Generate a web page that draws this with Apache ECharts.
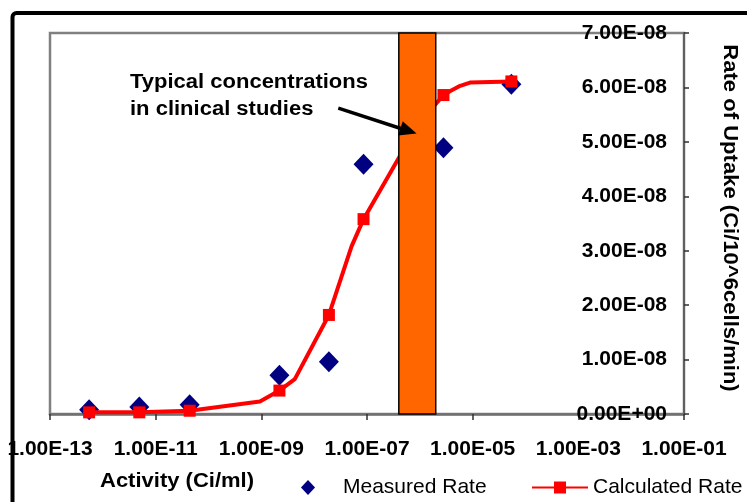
<!DOCTYPE html>
<html>
<head>
<meta charset="utf-8">
<script src="https://cdn.jsdelivr.net/npm/echarts@6/dist/echarts.min.js"></script>
<style>
  html, body { margin: 0; padding: 0; background: #fff; }
  #chart { width: 747px; height: 502px; }
</style>
</head>
<body>
<div id="chart"></div>
<script>
// Activity (Ci/ml) at which uptake was measured
const activity = [5.5e-13, 4.9e-12, 4.4e-11, 2.2e-9, 1.9e-8, 8.6e-8, 2.8e-6, 5.4e-5];
// Measured uptake rate (Ci/10^6 cells/min)
const measuredRate = [8e-10, 1.3e-9, 1.7e-9, 7.1e-9, 9.6e-9, 4.59e-8, 4.89e-8, 6.06e-8];
// Fitted curve: activity and calculated rate (markers at the measured activities)
const curveActivity = [5.5e-13, 4.9e-12, 4.4e-11, 9.4e-10, 2.2e-9, 4.3e-9, 1.9e-8, 5.1e-8, 8.6e-8, 8.9e-7, 2.8e-6, 3.7e-6, 5.8e-6, 8.9e-6, 5.4e-5];
const curveRate = [3e-10, 3e-10, 6e-10, 2.3e-9, 4.3e-9, 6.4e-9, 1.82e-8, 3.08e-8, 3.58e-8, 5.29e-8, 5.86e-8, 5.93e-8, 6.03e-8, 6.09e-8, 6.11e-8];
// Range of activity typical for clinical studies
const clinicalRange = [4e-7, 2e-6];
// Annotation arrow: start and end (activity, rate)
const arrowFrom = [2.86e-8, 5.62e-8];
const arrowTo = [6.1e-7, 5.2e-8];
// Tick labels
const xTickLabels = ['1.00E-13', '1.00E-11', '1.00E-09', '1.00E-07', '1.00E-05', '1.00E-03', '1.00E-01'];
const yTickLabels = ['0.00E+00', '1.00E-08', '2.00E-08', '3.00E-08', '4.00E-08', '5.00E-08', '6.00E-08', '7.00E-08'];

const FONT = "'Liberation Sans', Arial, sans-serif";

const chart = echarts.init(document.getElementById('chart'), null, { renderer: 'canvas' });

const measuredData = activity.map((x, i) => [x, measuredRate[i]]);
const curveData = curveActivity.map((x, i) => ({
  value: [x, curveRate[i]],
  symbol: activity.includes(x) ? 'rect' : 'none'
}));

chart.setOption({
  animation: false,
  backgroundColor: '#fff',
  grid: {
    left: 50, right: 63, top: 33, bottom: 88,
    show: true, borderColor: '#808080', borderWidth: 2.5, backgroundColor: '#fff'
  },
  xAxis: {
    type: 'log', logBase: 10, min: 1e-13, max: 1e-1, interval: 2,
    axisLine: { show: true, lineStyle: { color: '#707070', width: 2.5 } },
    axisTick: { show: true, length: 6, lineStyle: { color: '#303030', width: 1.5 } },
    splitLine: { show: false },
    minorTick: { show: false },
    axisLabel: {
      margin: 25, color: '#000', fontFamily: FONT, fontWeight: 'bold', fontSize: 21,
      showMinLabel: true, showMaxLabel: true,
      formatter: (v, i) => xTickLabels[Math.round((Math.log10(v) + 13) / 2)] ?? xTickLabels[i]
    }
  },
  yAxis: {
    type: 'value', position: 'right', min: 0, max: 7e-8, interval: 1e-8,
    axisLine: { show: true, lineStyle: { color: '#606060', width: 2 } },
    axisTick: { show: true, length: 5, lineStyle: { color: '#303030', width: 1.5 } },
    splitLine: { show: false },
    axisLabel: {
      inside: true, margin: 17, color: '#000', fontFamily: FONT, fontWeight: 'bold', fontSize: 21,
      formatter: (v, i) => yTickLabels[Math.round(v / 1e-8)] ?? yTickLabels[i]
    }
  },
  legend: [
    {
      data: ['Measured Rate'], left: 296, top: 472, orient: 'horizontal',
      itemWidth: 14, itemHeight: 15,
      itemStyle: { opacity: 1 },
      textStyle: { color: '#000', fontFamily: FONT, fontSize: 21, padding: [0, 0, 0, 23] }
    },
    {
      data: ['Calculated Rate'], left: 526, top: 472, orient: 'horizontal',
      itemWidth: 56, itemHeight: 15,
      textStyle: { color: '#000', fontFamily: FONT, fontSize: 21 }
    }
  ],
  series: [
    {
      name: 'Measured Rate', type: 'scatter', z: 2,
      symbol: 'diamond', symbolSize: [20, 21],
      itemStyle: { color: '#000080', opacity: 1 },
      data: measuredData
    },
    {
      name: 'Calculated Rate', type: 'line', z: 3,
      symbol: 'rect', symbolSize: 12, showSymbol: true,
      lineStyle: { color: '#ff0000', width: 4 },
      itemStyle: { color: '#ff0000' },
      data: curveData,
      markArea: {
        z: 4, silent: true,
        itemStyle: { color: '#ff6600', borderColor: '#000', borderWidth: 1.5, opacity: 1 },
        label: { show: false },
        data: [[{ xAxis: clinicalRange[0], yAxis: 0 }, { xAxis: clinicalRange[1], yAxis: 7e-8 }]]
      },
      markLine: {
        z: 6, silent: true, animation: false,
        symbol: ['none', 'triangle'], symbolSize: [15, 17],
        lineStyle: { color: '#000', width: 3.5, type: 'solid' },
        label: { show: false },
        data: [[{ coord: arrowFrom }, { coord: arrowTo }]]
      }
    }
  ],
  graphic: [
    {
      type: 'text', x: 130, y: 69, scaleX: 1.1, z: 50,
      style: {
        text: 'Typical concentrations\nin clinical studies',
        fill: '#000', font: 'bold 20px ' + FONT, lineHeight: 27
      }
    },
    {
      type: 'text', x: 177, y: 481, scaleX: 1.1, z: 50,
      style: {
        text: 'Activity (Ci/ml)', fill: '#000', font: 'bold 20px ' + FONT,
        textAlign: 'center', textVerticalAlign: 'middle'
      }
    },
    {
      type: 'text', x: 730, y: 218, rotation: -Math.PI / 2, scaleX: 1.05, z: 50,
      style: {
        text: 'Rate of Uptake (Ci/10^6cells/min)', fill: '#000', font: 'bold 21px ' + FONT,
        textAlign: 'center', textVerticalAlign: 'middle'
      }
    },
    {
      type: 'rect', z: 100, silent: true,
      shape: { x: 12.5, y: 13, width: 800, height: 600, r: 4 },
      style: { fill: 'none', stroke: '#000', lineWidth: 4 }
    }
  ]
});
</script>
</body>
</html>
